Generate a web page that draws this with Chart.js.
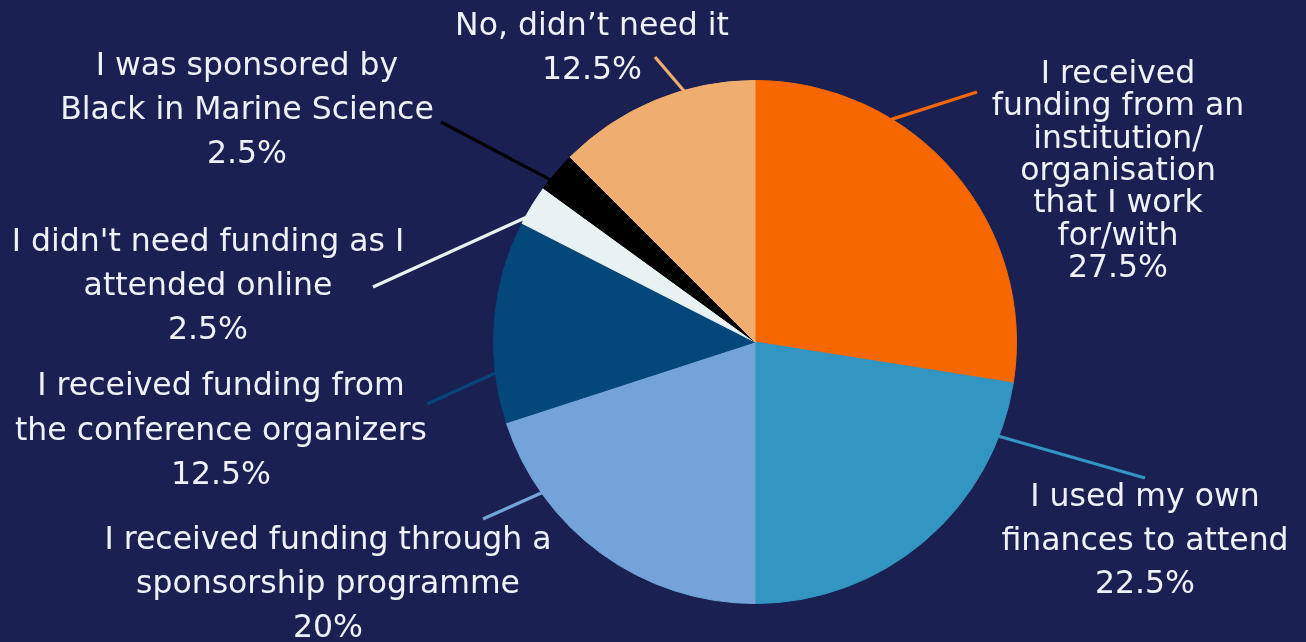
<!DOCTYPE html>
<html>
<head>
<meta charset="utf-8">
<script src="https://cdn.jsdelivr.net/npm/chart.js@4.4.1/dist/chart.umd.min.js"></script>
<style>
  html, body { margin: 0; padding: 0; background: #1b2052; }
  #wrap { position: relative; width: 1306px; height: 642px; }
</style>
</head>
<body>
<div id="wrap"><canvas id="fundingChart"></canvas></div>
<script>
/* ─────────────────────────────────────────
   DATA
───────────────────────────────────────── */
const categories = [
  'I received funding from an institution/ organisation that I work for/with',
  'I used my own finances to attend',
  'I received funding through a sponsorship programme',
  'I received funding from the conference organizers',
  "I didn't need funding as I attended online",
  'I was sponsored by Black in Marine Science',
  'No, didn’t need it',
];
const shares = [27.5, 22.5, 20, 12.5, 2.5, 2.5, 12.5];
const sliceColors = ['#f76700', '#3295c2', '#73a3d8', '#03477b', '#e8f2f2', '#000000', '#efad70'];

// how each label is broken into lines (as in the original)
const labelLines = [
  ['I received', 'funding from an', 'institution/', 'organisation', 'that I work', 'for/with'],
  ['I used my own', 'finances to attend'],
  ['I received funding through a', 'sponsorship programme'],
  ['I received funding from', 'the conference organizers'],
  ["I didn't need funding as I", 'attended online'],
  ['I was sponsored by', 'Black in Marine Science'],
  ['No, didn’t need it'],
];

/* ─────────────────────────────────────────
   LABEL LAYOUT (relative to pie centre)
───────────────────────────────────────── */
// leader: where on the slice edge the line starts (fraction of the slice), and where it ends
const leaderFrac = [0.317, 0.15, 0.76, 0.25, 0.18, 0.27, 0.65];
const leaderEnd  = [[222, -250], [390, 136], [-272, 177], [-328, 62], [-382, -55], [-314, -220], [-100, -285]];
// label block: centre x, first line y, line spacing
const labelPos   = [[363, -267, 32.3], [390, 156, 43.5], [-427, 199, 44], [-534, 45, 44.5],
                    [-547, -99, 44], [-508, -275, 44], [-163, -315, 44]];

const labelPlugin = {
  id: 'outerLabels',
  afterDatasetsDraw(chart) {
    const ctx  = chart.ctx;
    const arcs = chart.getDatasetMeta(0).data;
    ctx.save();
    arcs.forEach((arc, i) => {
      const { x, y, startAngle, endAngle, outerRadius } = arc.getProps(['x', 'y', 'startAngle', 'endAngle', 'outerRadius'], true);
      const a  = startAngle + (endAngle - startAngle) * leaderFrac[i];
      const sx = x + Math.cos(a) * (outerRadius - 1);
      const sy = y + Math.sin(a) * (outerRadius - 1);

      // leader line
      ctx.beginPath();
      ctx.moveTo(sx, sy);
      ctx.lineTo(x + leaderEnd[i][0], y + leaderEnd[i][1]);
      ctx.strokeStyle = sliceColors[i];
      ctx.lineWidth = 3.2;
      ctx.stroke();

      // text block
      const [lx, ly, lh] = labelPos[i];
      const lines = [...labelLines[i], shares[i] + '%'];
      ctx.fillStyle = '#eef2f8';
      ctx.font = '400 31.5px "DejaVu Sans", sans-serif';
      ctx.textAlign = 'center';
      ctx.textBaseline = 'middle';
      lines.forEach((t, k) => ctx.fillText(t, x + lx, y + ly + k * lh));
    });
    ctx.restore();
  }
};

/* ─────────────────────────────────────────
   PIE
───────────────────────────────────────── */
new Chart(document.getElementById('fundingChart'), {
  type: 'pie',
  data: {
    labels: categories,
    datasets: [{
      data: shares,
      backgroundColor: sliceColors,
      borderColor: sliceColors,
      borderWidth: 1,
    }]
  },
  options: {
    responsive: true,
    maintainAspectRatio: false,
    animation: false,
    layout: { padding: { left: 493, right: 289, top: 80, bottom: 38 } },
    plugins: {
      legend: { display: false },
      tooltip: { enabled: false }
    }
  },
  plugins: [labelPlugin]
});
</script>
</body>
</html>
